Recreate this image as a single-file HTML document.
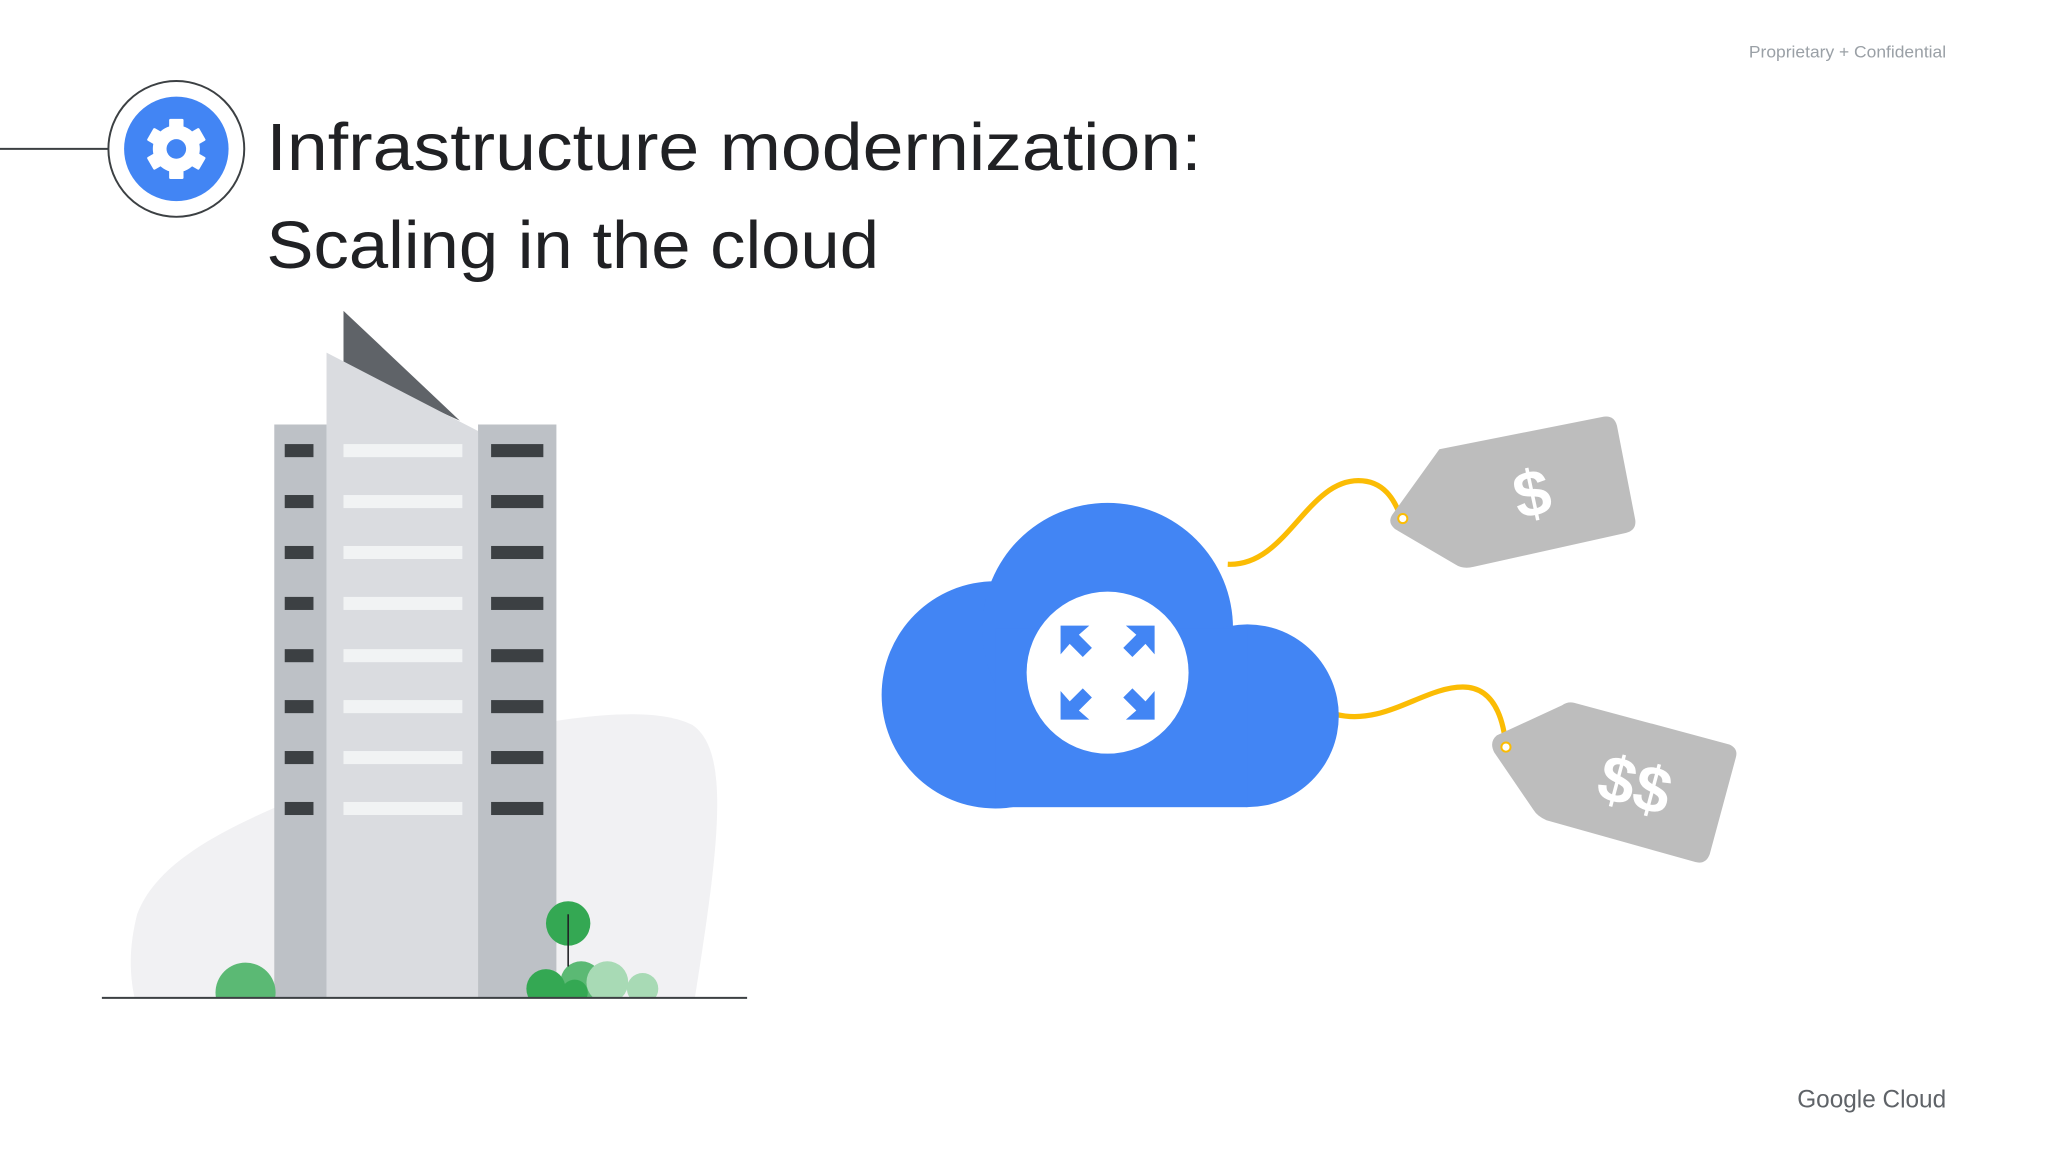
<!DOCTYPE html>
<html><head><meta charset="utf-8"><style>
html,body{margin:0;padding:0;background:#fff;}
svg{display:block;}
text{font-family:"Liberation Sans",sans-serif;}
</style></head><body>
<svg width="2048" height="1152" viewBox="0 0 1568 882" xmlns="http://www.w3.org/2000/svg">
<rect width="1568" height="882" fill="#fff"/>
<text x="1490" y="44" text-anchor="end" font-size="13" fill="#9aa0a6" textLength="151" lengthAdjust="spacingAndGlyphs">Proprietary + Confidential</text>
<text x="1490" y="848" text-anchor="end" font-size="19" fill="#5f6368" textLength="114" lengthAdjust="spacingAndGlyphs">Google Cloud</text>
<line x1="0" y1="114" x2="84" y2="114" stroke="#3c4043" stroke-width="1.5"/>
<circle cx="135" cy="114" r="52" fill="#fff" stroke="#3c4043" stroke-width="1.5"/>
<circle cx="135" cy="114" r="40" fill="#4285f4"/>
<g fill="#fff" transform="translate(135,114)">
<circle r="18"/>
<rect x="-5.5" y="-23" width="11" height="46" rx="1"/>
<rect x="-5.5" y="-23" width="11" height="46" rx="1" transform="rotate(60)"/>
<rect x="-5.5" y="-23" width="11" height="46" rx="1" transform="rotate(120)"/>
<circle r="7.5" fill="#4285f4"/>
</g>
<text x="204" y="130" font-size="51" fill="#202124" textLength="716" lengthAdjust="spacingAndGlyphs">Infrastructure modernization:</text>
<text x="204" y="205" font-size="51" fill="#202124" textLength="469" lengthAdjust="spacingAndGlyphs">Scaling in the cloud</text>
<path d="M105 700 C120 660 170 635 230 610 L380 560 C440 548 500 540 530 555 C560 575 550 650 532 764 L103 764 C98 740 100 720 105 700 Z" fill="#f1f1f3"/>
<polygon points="263,238 263,282 352,322" fill="#5f6368"/>
<rect x="210" y="325" width="40" height="439" fill="#bdc1c6"/>
<rect x="366" y="325" width="60" height="439" fill="#bdc1c6"/>
<polygon points="250,270 366,330 366,764 250,764" fill="#dadce0"/>
<g fill="#3c4043">
<rect x="218" y="340" width="22" height="10"/><rect x="218" y="379" width="22" height="10"/><rect x="218" y="418" width="22" height="10"/><rect x="218" y="457" width="22" height="10"/><rect x="218" y="497" width="22" height="10"/><rect x="218" y="536" width="22" height="10"/><rect x="218" y="575" width="22" height="10"/><rect x="218" y="614" width="22" height="10"/>
<rect x="376" y="340" width="40" height="10"/><rect x="376" y="379" width="40" height="10"/><rect x="376" y="418" width="40" height="10"/><rect x="376" y="457" width="40" height="10"/><rect x="376" y="497" width="40" height="10"/><rect x="376" y="536" width="40" height="10"/><rect x="376" y="575" width="40" height="10"/><rect x="376" y="614" width="40" height="10"/>
</g>
<g fill="#f1f3f4">
<rect x="263" y="340" width="91" height="10"/><rect x="263" y="379" width="91" height="10"/><rect x="263" y="418" width="91" height="10"/><rect x="263" y="457" width="91" height="10"/><rect x="263" y="497" width="91" height="10"/><rect x="263" y="536" width="91" height="10"/><rect x="263" y="575" width="91" height="10"/><rect x="263" y="614" width="91" height="10"/>
</g>
<circle cx="188" cy="760" r="23" fill="#5bb974"/>
<circle cx="445" cy="752" r="16" fill="#5bb974"/>
<circle cx="465" cy="752" r="16" fill="#a8dab5"/>
<circle cx="492" cy="757" r="12" fill="#a8dab5"/>
<circle cx="418" cy="757" r="15" fill="#34a853"/>
<circle cx="440" cy="760" r="10" fill="#34a853"/>
<circle cx="435" cy="707" r="17" fill="#34a853"/>
<line x1="435" y1="700" x2="435" y2="740" stroke="#202124" stroke-width="1.2"/>
<rect x="400" y="764" width="120" height="20" fill="#fff"/>
<rect x="160" y="764" width="60" height="20" fill="#fff"/>
<line x1="78" y1="764" x2="572" y2="764" stroke="#3c4043" stroke-width="1.5"/>
<path d="M940 432 C985 434 1000 368 1040 368 C1065 368 1070 392 1074 398" fill="none" stroke="#fbbc04" stroke-width="4"/>
<path d="M1023 547 C1060 556 1090 526 1120 526 C1148 526 1152 560 1153 572" fill="none" stroke="#fbbc04" stroke-width="4"/>
<g fill="#4285f4">
<circle cx="762" cy="532" r="87"/>
<circle cx="848" cy="481" r="96"/>
<circle cx="955" cy="548" r="70"/>
<rect x="762" y="481" width="193" height="137"/>
</g>
<circle cx="848" cy="515" r="62" fill="#fff"/>
<g fill="#4285f4" transform="translate(848,515)">
<g id="ar"><polygon points="-36,-36 -36,-14 -29,-22 -19,-12 -12,-19 -22,-29 -14,-36"/></g>
<use href="#ar" transform="scale(-1,1)"/>
<use href="#ar" transform="scale(1,-1)"/>
<use href="#ar" transform="scale(-1,-1)"/>
</g>
<path d="M1102 344 L1228 319 Q1236 318 1238 326 L1252 398 Q1253 406 1245 408 L1128 434 Q1120 436 1114 432 L1068 405 Q1062 400 1066 394 Z" fill="#bdbdbd"/>
<circle cx="1074" cy="397" r="3.5" fill="#fff" stroke="#fbbc04" stroke-width="1.5"/>
<text x="1173" y="395" font-size="50" font-weight="bold" fill="#fff" text-anchor="middle" transform="rotate(-12 1173 378)">$</text>
<path d="M1205 538 L1324 570 Q1331 573 1329 580 L1309 654 Q1306 662 1298 660 L1184 628 Q1177 625 1174 620 L1144 576 Q1140 568 1146 563 L1196 540 Q1200 537 1205 538 Z" fill="#bdbdbd"/>
<circle cx="1153" cy="572" r="3.5" fill="#fff" stroke="#fbbc04" stroke-width="1.5"/>
<text x="1252" y="618" font-size="50" font-weight="bold" fill="#fff" text-anchor="middle" transform="rotate(15 1252 600)">$$</text>
</svg>
</body></html>
